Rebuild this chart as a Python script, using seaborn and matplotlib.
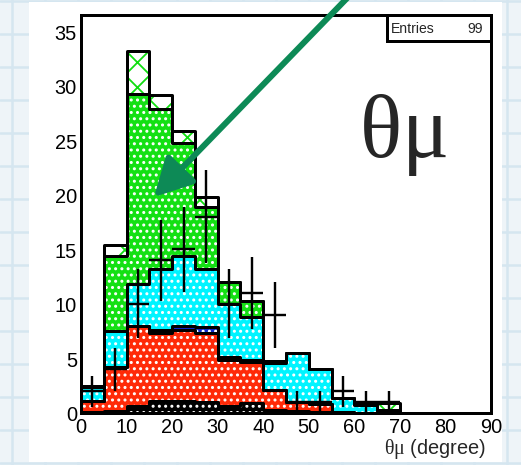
import numpy as np
import pandas as pd
import matplotlib
matplotlib.use("Agg")
import matplotlib.pyplot as plt
import seaborn as sns
from matplotlib.lines import Line2D
from matplotlib.patches import Rectangle
from matplotlib.ticker import MultipleLocator

# ---------------- data ----------------
bin_edges = np.arange(0, 95, 5)          # 0..90, width 5
bin_centers = bin_edges[:-1] + 2.5

# stacked MC contributions, bottom -> top
mc_black = [0.1, 0.2, 0.6, 1.1, 1.1, 1.0, 0.6, 0.9, 0.3, 0.2, 0.1, 0, 0, 0, 0, 0, 0, 0]
mc_red   = [1.0, 4.0, 7.4, 6.2, 6.55, 6.3, 4.3, 3.75, 1.8, 0.8, 0.7, 0.1, 0, 0, 0, 0, 0, 0]
mc_blue  = [0, 0, 0, 0.35, 0.3, 0.55, 0.25, 0.2, 0, 0, 0, 0, 0, 0, 0, 0, 0, 0]
mc_cyan  = [1.25, 3.3, 3.8, 5.55, 6.45, 5.35, 4.85, 3.95, 2.5, 4.5, 3.2, 1.25, 0.75, 0.2, 0, 0, 0, 0]
mc_green = [0, 6.9, 17.5, 14.7, 10.4, 5.7, 2.0, 1.5, 0.2, 0, 0, 0, 0.05, 0.1, 0, 0, 0, 0]
mc_other = [0.1, 1.0, 3.9, 1.3, 1.1, 0.9, 0, 0, 0, 0, 0, 0, 0, 0.6, 0, 0, 0, 0]

data_counts = [2, 4, 10, 14, 15, 18, 10, 11, 9, 1, 1, 2, 1, 1, 0, 0, 0, 0]
entries = 99

x_ticks = [0, 10, 20, 30, 40, 50, 60, 70, 80, 90]
y_ticks = [0, 5, 10, 15, 20, 25, 30, 35]

# ---------------- style ----------------
DPI = 150
W, H = 521, 466


def px(v):
    """pixels -> points"""
    return v * 72.0 / DPI


sns.set_style("white")
plt.rcParams["font.family"] = ["Liberation Sans", "DejaVu Sans"]
plt.rcParams["mathtext.fontset"] = "custom"
plt.rcParams["mathtext.rm"] = "Liberation Serif"
plt.rcParams["mathtext.it"] = "Liberation Serif"
plt.rcParams["hatch.linewidth"] = px(1.8)
plt.rcParams["axes.edgecolor"] = "black"
plt.rcParams["xtick.color"] = "black"
plt.rcParams["ytick.color"] = "black"

fig = plt.figure(figsize=(W / DPI, H / DPI), dpi=DPI)
fig.patch.set_facecolor("#eef4f8")

# slide-style graph paper background
for gx in range(12, W, 33):
    fig.add_artist(Line2D([gx / W, gx / W], [0, 1], color="#d5e6f0",
                          lw=px(2.5), zorder=-3))
for gy in range(2, H, 33):
    fig.add_artist(Line2D([0, 1], [1 - gy / H, 1 - gy / H], color="#d5e6f0",
                          lw=px(2.5), zorder=-3))
fig.add_artist(Rectangle((29 / W, (H - 463) / H), (502 - 29) / W, (463 - 3) / H,
                         transform=fig.transFigure, facecolor="white",
                         edgecolor="none", zorder=-2))

ax = fig.add_axes([81 / W, (H - 414) / H, (491 - 81) / W, (414 - 16) / H])
ax.set_facecolor("white")

layers = [mc_black, mc_red, mc_blue, mc_cyan, mc_green, mc_other]
fills = ["#000000", "#ff2a08", "#0a28c8", "#00f4ff", "#14e014", "#ffffff"]
hatch_cols = ["white", "white", "white", "white", "white", "#10dd10"]
hatches = ["....", "....", "....", "....", "....", "xx"]

cum = np.cumsum(np.array(layers, dtype=float), axis=0)

# draw like a THStack: top (largest cumulative) first
for i in reversed(range(len(layers))):
    df = pd.DataFrame({"theta": bin_centers, "w": cum[i]})
    n0 = len(ax.patches)
    sns.histplot(data=df, x="theta", weights="w", binwidth=5, binrange=(0, 90),
                 element="bars", fill=True, shrink=1, color=fills[i], alpha=1,
                 linewidth=0, ax=ax)
    for p in ax.patches[n0:]:
        p.set_facecolor(fills[i])
        p.set_edgecolor(hatch_cols[i])
        p.set_linewidth(0)
        p.set_hatch(hatches[i])
        p.set_antialiased(False)
    sns.histplot(data=df, x="theta", weights="w", binwidth=5, binrange=(0, 90),
                 element="step", fill=False, color="black", linewidth=px(3),
                 ax=ax)

# data points with sqrt(N) errors
counts = np.array(data_counts, dtype=float)
mask = counts > 0
ax.errorbar(bin_centers[mask], counts[mask], xerr=2.5, yerr=np.sqrt(counts[mask]),
            fmt="none", ecolor="black", elinewidth=px(2.4), capsize=0, zorder=10)

# axes
ax.set_xlim(0, 90)
ax.set_ylim(0, 36.5)
ax.set_xticks(x_ticks)
ax.set_yticks(y_ticks)
ax.xaxis.set_minor_locator(MultipleLocator(2.5))
ax.yaxis.set_minor_locator(MultipleLocator(1))
ax.tick_params(which="both", direction="in", width=px(2.4), top=False,
               right=False, labelsize=px(20), colors="black")
ax.tick_params(which="major", length=px(12), pad=px(4))
ax.tick_params(which="minor", length=px(6))
for s in ax.spines.values():
    s.set_visible(True)
    s.set_linewidth(px(3))
    s.set_color("black")
    s.set_zorder(12)

ax.set_ylabel("")
ax.set_xlabel(r"$\theta\mu$ (degree)", loc="right", fontsize=px(20))
ax.xaxis.set_label_coords((486 - 81) / 410, (414 - 437) / 398)

# stats box
ax.add_patch(Rectangle((0.746, 0.935), 0.254, 0.065, transform=ax.transAxes,
                       facecolor="white", edgecolor="black", lw=px(3),
                       zorder=13, clip_on=False))
ax.text(0.755, 0.967, "Entries", transform=ax.transAxes, ha="left",
        va="center", fontsize=px(14), zorder=14)
ax.text(0.981, 0.967, f"{entries}", transform=ax.transAxes, ha="right",
        va="center", fontsize=px(14), zorder=14)

# big label
ax.text(0.785, 0.646, r"$\theta\mu$", transform=ax.transAxes, ha="center",
        va="baseline", fontsize=px(88), zorder=14)

# arrow
ann = ax.annotate("", xy=(154, H - 198), xycoords="figure pixels",
                  xytext=(354, H + 8), textcoords="figure pixels",
                  arrowprops=dict(arrowstyle=f"-|>,head_length={px(32)},head_width={px(17)}",
                                  mutation_scale=1, lw=px(6), color="#0d8a56",
                                  shrinkA=0, shrinkB=0),
                  annotation_clip=False, zorder=20)
ann.arrow_patch.set_clip_on(False)

fig.savefig("out.png", dpi=DPI, facecolor=fig.get_facecolor())
